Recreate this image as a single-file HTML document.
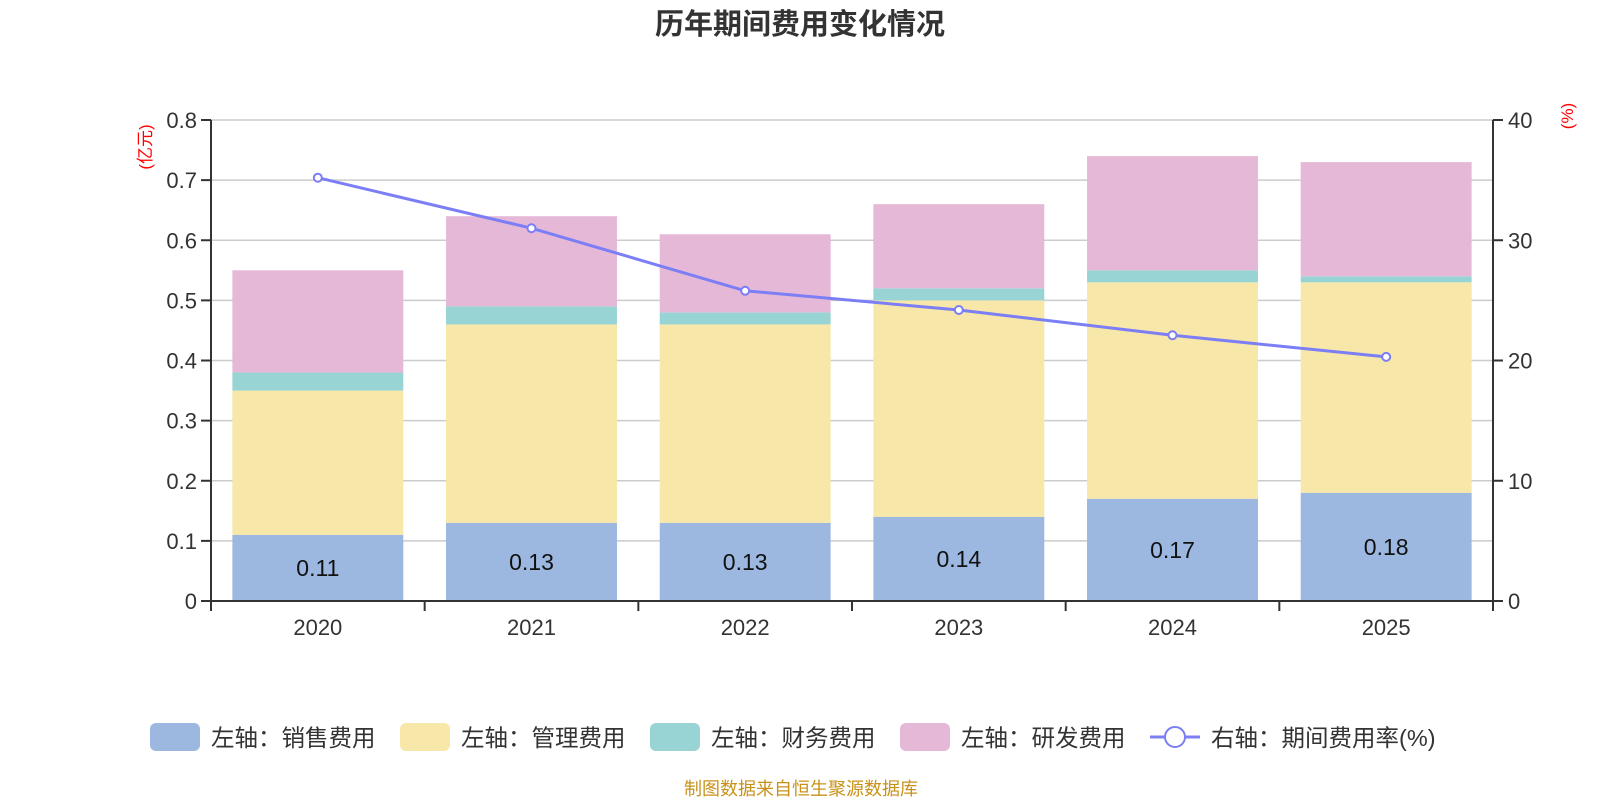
<!DOCTYPE html>
<html><head><meta charset="utf-8"><style>
body{margin:0;background:#fff;width:1600px;height:800px;overflow:hidden;font-family:"Liberation Sans","Noto Sans CJK SC",sans-serif}
</style></head><body>
<svg id="c" width="1600" height="800" xmlns="http://www.w3.org/2000/svg" font-family="Liberation Sans, Noto Sans CJK SC, sans-serif">
<text x="800" y="34" text-anchor="middle" font-size="29" font-weight="bold" fill="#333">历年期间费用变化情况</text>
<g id="grid"></g><g id="bars"></g><g id="axes"></g><g id="line"></g>
<text transform="translate(151,147) rotate(-90)" text-anchor="middle" font-size="17" fill="#f00">(亿元)</text>
<text transform="translate(1573,116) rotate(-90)" text-anchor="middle" font-size="17" fill="#f00">(%)</text>
<g id="legend"></g>
<text x="801" y="795" text-anchor="middle" font-size="18" fill="#c8921a">制图数据来自恒生聚源数据库</text>
</svg>
<script>
const categories=["2020","2021","2022","2023","2024","2025"];
const sales=[0.11,0.13,0.13,0.14,0.17,0.18];
const mgmt=[0.24,0.33,0.33,0.36,0.36,0.35];
const fin=[0.03,0.03,0.02,0.02,0.02,0.01];
const rd=[0.17,0.15,0.13,0.14,0.19,0.19];
const rate=[35.2,31.0,25.8,24.2,22.1,20.3];
const leftTicks=[0,0.1,0.2,0.3,0.4,0.5,0.6,0.7,0.8];
const rightTicks=[0,10,20,30,40];
const seriesNames=["左轴：销售费用","左轴：管理费用","左轴：财务费用","左轴：研发费用"];
const colors=["#9cb8e0","#f7e7a8","#98d4d4","#e6b8d7"];
const NS="http://www.w3.org/2000/svg";
const X0=211,X1=1493,Y0=601,Y1=120;
const bw=(X1-X0)/categories.length;
const yL=v=>Y0-(v/0.8)*(Y0-Y1);
const yR=v=>Y0-(v/40)*(Y0-Y1);
const xC=i=>X0+bw*(i+0.5);
function mk(tag,attrs,parent){const e=document.createElementNS(NS,tag);for(const k in attrs)e.setAttribute(k,attrs[k]);document.getElementById(parent).appendChild(e);return e;}
leftTicks.forEach((t,i)=>{
 if(i>0){const g=mk('line',{x1:X0,x2:X1,y1:yL(t),y2:yL(t),stroke:'#ccc','stroke-width':1.5},'grid');
 
 }
 const tk=mk('line',{x1:X0-10,x2:X0,y1:yL(t),y2:yL(t),stroke:'#333','stroke-width':2},'axes');
 
 
 const tx=mk('text',{x:X0-14,y:yL(t)+8,'text-anchor':'end','font-size':22,fill:'#333'},'axes');tx.textContent=String(t);
 
 
});
rightTicks.forEach(t=>{
 const tk=mk('line',{x1:X1,x2:X1+10,y1:yR(t),y2:yR(t),stroke:'#333','stroke-width':2},'axes');
 
 
 const tx=mk('text',{x:X1+15,y:yR(t)+8,'font-size':22,fill:'#333'},'axes');tx.textContent=String(t);
 
 
});
[[X0,Y1,X0,Y0+1],[X1,Y1,X1,Y0+1],[X0,Y0,X1,Y0]].forEach(a=>{
 const l=mk('line',{x1:a[0],y1:a[1],x2:a[2],y2:a[3],stroke:'#333','stroke-width':2},'axes');
 
 
});
for(let i=0;i<=categories.length;i++){
 const l=mk('line',{x1:X0+bw*i,x2:X0+bw*i,y1:Y0,y2:Y0+10,stroke:'#333','stroke-width':2},'axes');
 
 
}
const series=[sales,mgmt,fin,rd];
categories.forEach((c,i)=>{
 let base=0;
 const bx=xC(i)-bw*0.4;
 series.forEach((s,k)=>{
  const r=mk('rect',{x:bx,y:yL(base+s[i]),width:bw*0.8,height:yL(base)-yL(base+s[i]),fill:colors[k]},'bars');
  
  
  base+=s[i];
 });
 const lb=mk('text',{x:xC(i),y:(yL(0)+yL(sales[i]))/2+8,'text-anchor':'middle','font-size':23,fill:'#111'},'bars');lb.textContent=sales[i].toFixed(2);
 
 
 const tx=mk('text',{x:xC(i),y:Y0+34,'text-anchor':'middle','font-size':22,fill:'#333'},'axes');tx.textContent=c;
 
 
});
const pl=mk('polyline',{points:rate.map((v,i)=>xC(i)+','+yR(v)).join(' '),fill:'none',stroke:'#7b7ef5','stroke-width':3},'line');


rate.forEach((v,i)=>{
 const p=mk('circle',{cx:xC(i),cy:yR(v),r:4,fill:'#fff',stroke:'#7b7ef5','stroke-width':2},'line');
 
 
});
const lx=[150,400,650,900];
seriesNames.forEach((n,k)=>{
 const r=mk('rect',{x:lx[k],y:723,width:50,height:28,rx:6,fill:colors[k]},'legend');
 
 
 const t=mk('text',{x:lx[k]+61,y:746,'font-size':23.5,fill:'#333'},'legend');t.textContent=n;
 
 
});
const ll=mk('line',{x1:1150,x2:1200,y1:737,y2:737,stroke:'#7b7ef5','stroke-width':3},'legend');


const lc=mk('circle',{cx:1175,cy:737,r:10,fill:'#fff',stroke:'#7b7ef5','stroke-width':2},'legend');


const lt=mk('text',{x:1211,y:746,'font-size':23.5,fill:'#333'},'legend');lt.textContent="右轴：期间费用率(%)";


</script>
</body></html>
